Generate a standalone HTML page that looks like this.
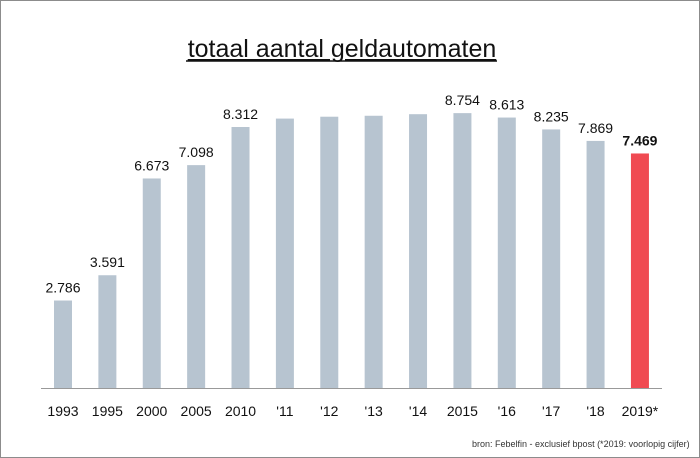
<!DOCTYPE html>
<html><head><meta charset="utf-8"><style>
body{margin:0;background:#fff}
svg{display:block;font-family:"Liberation Sans",Carlito,sans-serif}
</style></head><body>
<svg width="700" height="458" viewBox="0 0 700 458">
<rect x="0.5" y="0.5" width="699" height="457" fill="#fff" stroke="#8c8c8c" stroke-width="1"/>
<text x="342" y="57" font-size="25" text-anchor="middle" fill="#111" text-decoration="underline">totaal aantal geldautomaten</text>
<line x1="186" y1="61" x2="497" y2="61" stroke="#111" stroke-width="1.5"/>
<line x1="41" y1="388.5" x2="662" y2="388.5" stroke="#999" stroke-width="1"/>
<g id="bars"></g>
<text x="472" y="447" font-size="9" fill="#333">bron: Febelfin - exclusief bpost (*2019: voorlopig cijfer)</text>
</svg>
<script>
var d=[["1993",2786,1],["1995",3591,1],["2000",6673,1],["2005",7098,1],["2010",8312,1],["'11",8580,0],["'12",8640,0],["'13",8670,0],["'14",8720,0],["2015",8754,1],["'16",8613,1],["'17",8235,1],["'18",7869,1],["2019*",7469,1]];
var g=document.getElementById('bars'),s='';
d.forEach(function(e,i){var c=63+i*44.38,h=e[1]*0.0314,t=388-h,red=i==13;
s+='<rect x="'+(c-9)+'" y="'+t+'" width="18" height="'+h+'" fill="'+(red?'#f04a52':'#b7c4d0')+'"/>';
if(e[2])s+='<text x="'+c+'" y="'+(t-8)+'" font-size="14" text-anchor="middle" fill="#111"'+(red?' font-weight="bold"':'')+'>'+(e[1]/1000).toFixed(3)+'</text>';
s+='<text x="'+c+'" y="416" font-size="14" text-anchor="middle" fill="#111">'+e[0]+'</text>';});
g.innerHTML=s;
</script>
</body></html>
